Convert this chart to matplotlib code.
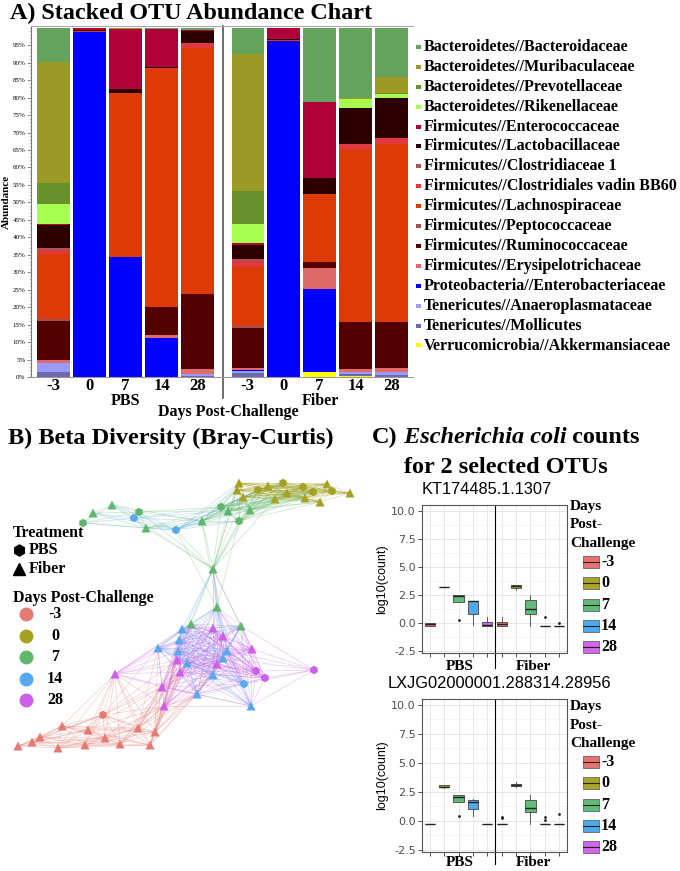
import numpy as np
import matplotlib.pyplot as plt
from matplotlib.collections import LineCollection
from matplotlib.patches import Rectangle
from matplotlib.lines import Line2D
from matplotlib.ticker import MultipleLocator

W, H = 680, 871
SERIF = 'Liberation Serif'
SANS = 'Liberation Sans'

# ---------------- A) stacked abundance data (percent, legend order) ----------------
taxa = ['Bacteroidetes//Bacteroidaceae', 'Bacteroidetes//Muribaculaceae',
        'Bacteroidetes//Prevotellaceae', 'Bacteroidetes//Rikenellaceae',
        'Firmicutes//Enterococcaceae', 'Firmicutes//Lactobacillaceae',
        'Firmicutes//Clostridiaceae 1', 'Firmicutes//Clostridiales vadin BB60',
        'Firmicutes//Lachnospiraceae', 'Firmicutes//Peptococcaceae',
        'Firmicutes//Ruminococcaceae', 'Firmicutes//Erysipelotrichaceae',
        'Proteobacteria//Enterobacteriaceae', 'Tenericutes//Anaeroplasmataceae',
        'Tenericutes//Mollicutes', 'Verrucomicrobia//Akkermansiaceae']
taxa_colors = ['#63a35c', '#9c9a25', '#67912a', '#a6ff4d', '#b0003a', '#2d0000',
               '#a65656', '#e0383c', '#de3a05', '#a05050', '#550000', '#e06a6a',
               '#0000ff', '#9a9aff', '#6a6aa8', '#ffff00']

days = ['-3', '0', '7', '14', '28']
pbs_m3 = [9.9, 34.6, 5.9, 5.9, 0.3, 6.4, 0.6, 1.2, 18.7, 0.5, 11.0, 1.1, 0, 2.4, 1.5, 0]
pbs_0 = [0.2, 0, 0, 0, 0.4, 0.2, 0, 0, 0.4, 0, 0, 0, 98.8, 0, 0, 0]
pbs_7 = [0, 0.5, 0, 0, 17.0, 1.2, 0, 0, 46.9, 0, 0, 0, 34.4, 0, 0, 0]
pbs_14 = [0.3, 0, 0, 0, 10.8, 0.3, 0, 0.3, 68.3, 0, 8.0, 0.8, 11.2, 0, 0, 0]
pbs_28 = [0.6, 0, 0, 0, 0.4, 3.5, 0, 1.3, 70.5, 0, 21.4, 1.5, 0, 0.4, 0.4, 0]
fib_m3 = [7.5, 39.3, 9.5, 5.3, 0.6, 4.0, 0.5, 1.9, 16.9, 0.5, 11.4, 0.5, 0.3, 0.6, 1.2, 0]
fib_0 = [0, 0, 0, 0, 3.2, 0.3, 0, 0, 0.3, 0, 0, 0, 96.2, 0, 0, 0]
fib_7 = [21.3, 0, 0, 0, 21.6, 4.6, 0, 0, 19.7, 0, 1.5, 6.0, 23.8, 0, 0, 1.5]
fib_14 = [20.2, 0.3, 0, 2.4, 0, 10.5, 0, 1.6, 49.2, 0, 13.6, 0.7, 0, 0.6, 0.5, 0.4]
fib_28 = [14.0, 4.8, 0.3, 1.1, 0, 11.3, 0, 1.7, 51.0, 0, 13.3, 1.2, 0, 0.6, 0.7, 0]
samples = [pbs_m3, pbs_0, pbs_7, pbs_14, pbs_28, fib_m3, fib_0, fib_7, fib_14, fib_28]

# ---------------- B) network nodes (layout coords), day and treatment ----------------
node_x = [239, 268, 283, 303, 327, 332, 350, 243, 237, 258, 287, 275, 305, 320, 313,
          93, 112, 139, 83, 221, 228, 250, 239, 202, 146, 134, 176,
          213, 217, 191, 241,
          182, 179, 158, 178, 227, 187, 223, 213, 197, 251, 244,
          213, 223, 252, 177, 217, 115, 180, 162, 164, 256, 265, 314,
          103, 18, 40, 62, 88, 120, 150, 138, 58, 85, 32, 105, 155]
node_y = [483, 486, 483, 487, 484, 491, 493, 497, 490, 490, 493, 499, 498, 502, 492,
          513, 505, 512, 523, 507, 511, 510, 521, 521, 528, 518, 530,
          569, 607, 624, 626,
          629, 640, 648, 651, 651, 663, 658, 675, 694, 706, 684,
          628, 636, 649, 660, 664, 674, 672, 687, 706, 671, 678, 670,
          715, 746, 737, 726, 730, 744, 745, 728, 748, 745, 742, 738, 732]
node_day = ['0'] * 15 + ['7'] * 10 + ['14'] * 2 + ['7'] * 4 + ['14'] * 11 + ['28'] * 12 + ['-3'] * 13
node_trt = ['F', 'F', 'P', 'P', 'F', 'P', 'F', 'F', 'F', 'P', 'F', 'F', 'F', 'F', 'P',
            'F', 'F', 'P', 'P', 'P', 'F', 'F', 'P', 'F', 'F', 'P', 'P',
            'F', 'F', 'F', 'F',
            'F', 'F', 'F', 'F', 'F', 'F', 'F', 'F', 'F', 'F', 'P',
            'F', 'F', 'F', 'F', 'F', 'F', 'F', 'F', 'F', 'P', 'P', 'P',
            'P', 'F', 'F', 'F', 'F', 'F', 'F', 'F', 'F', 'F', 'F', 'F', 'F']
day_colors = {'-3': '#e47a72', '0': '#a5a122', '7': '#5fb66c', '14': '#58a8ec', '28': '#cd5fe8'}

# ---------------- C) E. coli boxplot summaries ----------------
box_groups = ['PBS', 'Fiber']
kt_med = [-0.15, 3.2, 2.35, 1.9, -0.2, -0.1, 3.25, 1.2, -0.3, -0.3]
kt_q1 = [-0.3, 3.2, 1.85, 0.8, -0.3, -0.3, 3.12, 0.75, -0.3, -0.3]
kt_q3 = [0.0, 3.2, 2.45, 1.95, 0.05, 0.1, 3.35, 2.0, -0.3, -0.3]
kt_lo = [-0.3, 3.2, 1.85, -0.2, -0.3, -0.3, 2.95, -0.3, -0.3, -0.3]
kt_hi = [0.0, 3.2, 2.5, 1.98, 0.5, 0.55, 3.4, 2.45, -0.3, -0.3]
kt_out = [[], [], [0.25], [], [], [], [], [], [0.55], [0.0]]

lx_med = [-0.3, 2.95, 2.05, 1.6, -0.3, -0.3, 3.1, 1.1, -0.3, -0.3]
lx_q1 = [-0.3, 2.88, 1.6, 1.05, -0.3, -0.3, 3.0, 0.75, -0.3, -0.3]
lx_q3 = [-0.3, 3.05, 2.2, 1.75, -0.3, -0.3, 3.2, 1.75, -0.3, -0.3]
lx_lo = [-0.3, 2.85, 1.6, 0.4, -0.3, -0.3, 2.95, -0.3, -0.3, -0.3]
lx_hi = [-0.3, 3.1, 2.2, 1.9, -0.3, -0.3, 3.35, 2.2, -0.3, -0.3]
lx_out = [[], [], [0.4], [], [], [0.2, 0.3], [], [], [0.1, 0.3], [0.6]]
box_colors = ['#E8736C', '#A8A62A', '#62BC78', '#4FA9EE', '#CF67EE']


def rect(l, t, r, b):
    return [l / W, 1 - b / H, (r - l) / W, (b - t) / H]


def fx(x):
    return x / W


def fy(y):
    return 1 - y / H


fig = plt.figure(figsize=(6.8, 8.71), dpi=100)

# ======================= A) stacked bars =======================
axA = fig.add_axes(rect(31, 26, 413, 377))
xpos = [0, 1, 2, 3, 4, 5.4, 6.4, 7.4, 8.4, 9.4]
bottom = np.zeros(len(samples))
vals = np.array(samples)
for k in range(len(taxa) - 1, -1, -1):
    axA.bar(xpos, vals[:, k], bottom=bottom, width=0.9, color=taxa_colors[k], linewidth=0)
    bottom += vals[:, k]
axA.set_xlim(-0.63, 10.0)
axA.set_ylim(0, 100.5)
axA.set_yticks(range(0, 100, 5))
axA.set_yticklabels([f'{v}%' for v in range(0, 100, 5)], fontsize=5, family=SERIF)
axA.yaxis.set_minor_locator(MultipleLocator(1))
axA.tick_params(axis='y', which='major', length=3, width=0.6, color='#777777', pad=1)
axA.tick_params(axis='y', which='minor', length=1.5, width=0.4, color='#999999')
axA.set_xticks(xpos)
axA.set_xticklabels(days * 2, fontsize=12, family=SERIF, fontweight='bold')
axA.tick_params(axis='x', length=0, pad=1)
axA.spines['right'].set_visible(False)
axA.spines['top'].set_color('#aaaaaa')
axA.spines['left'].set_color('#777777')
axA.spines['bottom'].set_color('#999999')
axA.plot([4.7, 4.7], [100.5, -6], color='#555555', lw=1.2, clip_on=False)
axA.set_ylabel('Abundance', fontsize=8, family=SERIF, fontweight='bold', labelpad=1)

fig.text(fx(10), fy(13), 'A) Stacked OTU Abundance Chart', fontsize=17.4, family=SERIF,
         fontweight='bold', va='center', ha='left')
fig.text(fx(125), fy(401), 'PBS', fontsize=11.5, family=SERIF, fontweight='bold', ha='center', va='center')
fig.text(fx(320), fy(401), 'Fiber', fontsize=11.5, family=SERIF, fontweight='bold', ha='center', va='center')
fig.text(fx(228), fy(412), 'Days Post-Challenge', fontsize=11.5, family=SERIF, fontweight='bold',
         ha='center', va='center')

for i, (name, col) in enumerate(zip(taxa, taxa_colors)):
    yy = 47 + i * 19.9
    fig.add_artist(Rectangle((fx(416), fy(yy + 2)), 5 / W, 4 / H, transform=fig.transFigure,
                             color=col, lw=0))
    fig.text(fx(424), fy(yy), name, fontsize=11.5, family=SERIF, fontweight='bold', va='center')

# ======================= B) network =======================
axB = fig.add_axes(rect(0, 445, 370, 770))
axB.set_xlim(0, 370)
axB.set_ylim(770, 445)
axB.axis('off')
nx_ = np.array(node_x, float)
ny_ = np.array(node_y, float)
segs, ecols = [], []
for i in range(len(nx_)):
    for j in range(i + 1, len(nx_)):
        d = np.hypot(nx_[i] - nx_[j], ny_[i] - ny_[j])
        if d < 95:
            segs.append([(nx_[i], ny_[i]), (nx_[j], ny_[j])])
            ecols.append(day_colors[node_day[j]])
axB.add_collection(LineCollection(segs, colors=ecols, linewidths=0.5, alpha=0.35, zorder=1))
for trt, mk, sz in [('P', 'h', 38), ('F', '^', 42)]:
    idx = [k for k in range(len(nx_)) if node_trt[k] == trt]
    axB.scatter(nx_[idx], ny_[idx], marker=mk, s=sz, c=[day_colors[node_day[k]] for k in idx],
                edgecolors='none', zorder=3)

fig.text(fx(8), fy(438), 'B) Beta Diversity (Bray-Curtis)', fontsize=17.5, family=SERIF,
         fontweight='bold', va='center', ha='left')
fig.text(fx(13), fy(533), 'Treatment', fontsize=11.5, family=SERIF, fontweight='bold', va='center')
leg_trt = [('PBS', 'h', 550), ('Fiber', '^', 569)]
for lab, mk, yy in leg_trt:
    fig.add_artist(Line2D([fx(19)], [fy(yy)], marker=mk, color='black', markersize=8,
                          transform=fig.transFigure, linestyle='none'))
    fig.text(fx(29), fy(yy), lab, fontsize=11.5, family=SERIF, fontweight='bold', va='center')
fig.text(fx(13), fy(598), 'Days Post-Challenge', fontsize=11.5, family=SERIF, fontweight='bold',
         va='center')
for i, dd in enumerate(days):
    yy = 614 + i * 21.5
    fig.add_artist(Line2D([fx(26)], [fy(yy)], marker='o', color=day_colors[dd], markersize=9,
                          transform=fig.transFigure, linestyle='none'))
    fig.text(fx(55), fy(yy), dd, fontsize=11.5, family=SERIF, fontweight='bold', va='center',
             ha='center')

# ======================= C) boxplots =======================
t1 = fig.text(fx(372), fy(437), 'C)', fontsize=17.5, family=SERIF, fontweight='bold', va='center')
t2 = axB.annotate(' Escherichia coli', xy=(1, 0), xycoords=t1, va='bottom', ha='left',
                  fontsize=17.5, family=SERIF, fontweight='bold', style='italic',
                  annotation_clip=False)
axB.annotate(' counts', xy=(1, 0), xycoords=t2, va='bottom', ha='left', fontsize=17.5,
             family=SERIF, fontweight='bold', annotation_clip=False)
fig.text(fx(506), fy(467), 'for 2 selected OTUs', fontsize=17.5, family=SERIF, fontweight='bold',
         va='center', ha='center')


def draw_boxes(ax, title, title_x, med, q1, q3, lo, hi, out, top_px, bot_px, lab_off, leg_top):
    stats = []
    for k in range(10):
        stats.append(dict(med=med[k], q1=q1[k], q3=q3[k], whislo=lo[k], whishi=hi[k],
                          fliers=out[k]))
    pos = list(range(1, 11))
    bp = ax.bxp(stats, positions=pos, widths=0.72, patch_artist=True, showcaps=False,
                boxprops=dict(edgecolor='#444444', linewidth=0.6),
                medianprops=dict(color='#222222', linewidth=1.0),
                whiskerprops=dict(color='#444444', linewidth=0.6),
                flierprops=dict(marker='o', markersize=2, markerfacecolor='#222222',
                                markeredgecolor='none'))
    for k, patch in enumerate(bp['boxes']):
        patch.set_facecolor(box_colors[k % 5])
    ax.set_xlim(0.45, 10.55)
    ax.set_ylim(-2.7, 10.5)
    ax.set_yticks([-2.5, 0, 2.5, 5.0, 7.5, 10.0])
    ax.set_yticklabels(['-2.5', '0.0', '2.5', '5.0', '7.5', '10.0'])
    ax.yaxis.set_minor_locator(MultipleLocator(1.25))
    ax.set_xticks(pos)
    ax.set_xticklabels([''] * 10)
    ax.tick_params(axis='both', which='major', length=3, width=0.6, color='#333333',
                   labelsize=8, labelcolor='#4d4d4d', pad=1.5)
    ax.tick_params(axis='y', which='minor', length=0)
    ax.grid(which='major', color='#e6e6e6', lw=0.7)
    ax.grid(which='minor', axis='y', color='#f2f2f2', lw=0.5)
    ax.set_axisbelow(True)
    for s in ax.spines.values():
        s.set_color('#555555')
        s.set_linewidth(0.8)
    frac = lab_off / (bot_px - top_px)
    ax.plot([5.5, 5.5], [1, -frac - 0.01], transform=ax.get_xaxis_transform(), color='black',
            lw=0.8, clip_on=False)
    ax.set_ylabel('log10(count)', fontsize=9, family=SANS, labelpad=2)
    fig.text(fx(title_x), fy(top_px - 16), title, fontsize=11.8, family=SANS, va='center',
             ha='left')
    for g, xg in zip(box_groups, [3.1, 8.2]):
        ax.text(xg, -frac, g, transform=ax.get_xaxis_transform(), ha='center', va='center',
                fontsize=11, family=SERIF, fontweight='bold')
    # legend
    for line, dy in zip(['Days', 'Post-', 'Challenge'], [0, 19, 38]):
        fig.text(fx(570), fy(leg_top + dy), line, fontsize=11, family=SERIF,
                 fontweight='bold', va='center', ha='left')
    for i, dd in enumerate(days):
        yy = leg_top + 56 + i * 21.3
        fig.add_artist(Rectangle((fx(583), fy(yy + 6)), 16 / W, 12 / H,
                                 transform=fig.transFigure, facecolor=box_colors[i],
                                 edgecolor='#666666', lw=0.6))
        fig.add_artist(Line2D([fx(583), fx(599)], [fy(yy), fy(yy)], color='#222222', lw=0.8,
                              transform=fig.transFigure))
        fig.text(fx(601), fy(yy), dd, fontsize=11.5, family=SERIF, fontweight='bold', va='center')


axC1 = fig.add_axes(rect(422, 505, 567, 653))
draw_boxes(axC1, 'KT174485.1.1307', 422, kt_med, kt_q1, kt_q3, kt_lo, kt_hi, kt_out,
           505, 653, 14, 506)
axC2 = fig.add_axes(rect(422, 699, 567, 852))
draw_boxes(axC2, 'LXJG02000001.288314.28956', 388, lx_med, lx_q1, lx_q3, lx_lo, lx_hi, lx_out,
           699, 852, 10, 706)

fig.savefig('out.png', dpi=100)
